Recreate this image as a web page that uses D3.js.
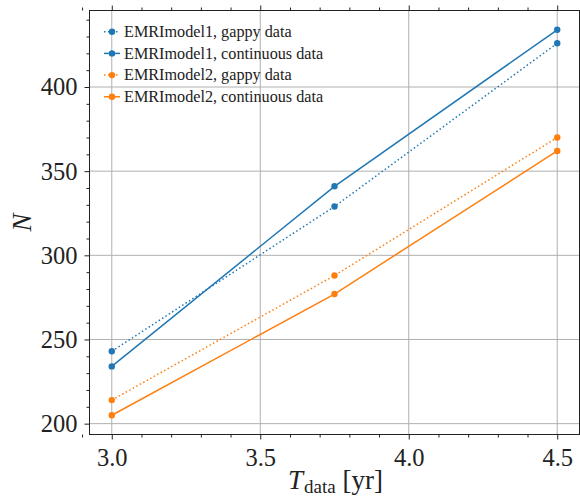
<!DOCTYPE html>
<html>
<head>
<meta charset="utf-8">
<script src="https://cdn.jsdelivr.net/npm/d3@7"></script>
<style>
  html, body { margin: 0; padding: 0; background: #fff; }
  svg { display: block; }
  text { font-family: "Liberation Serif", "Times New Roman", serif; fill: #222; }
</style>
</head>
<body>
<svg id="chart" width="580" height="500"></svg>
<script>
// ---- data ----
const tData = [3.0, 3.75, 4.5];
const model1Gappy = [243, 329, 426];
const model1Cont = [234, 341, 434];
const model2Gappy = [214, 288, 370];
const model2Cont = [205, 277, 362];
const seriesLabels = [
  "EMRImodel1, gappy data",
  "EMRImodel1, continuous data",
  "EMRImodel2, gappy data",
  "EMRImodel2, continuous data"
];
const seriesColors = ["#1f77b4", "#1f77b4", "#ff7f0e", "#ff7f0e"];
const seriesDotted = [true, false, true, false];
const xTicks = [3.0, 3.5, 4.0, 4.5];
const yTicks = [200, 250, 300, 350, 400];
const xMinorTicks = d3.range(29, 46).map(d => d / 10).filter(d => !xTicks.some(t => Math.abs(t - d) < 1e-9));
const yMinorTicks = d3.range(190, 450, 10).filter(d => d % 50 !== 0);

const seriesValues = [model1Gappy, model1Cont, model2Gappy, model2Cont];

// ---- layout ----
const svg = d3.select("#chart");
const L = 89.5, R = 579.5, T = 10.5, B = 434.5;

const allY = seriesValues.flat();
const yMin = d3.min(allY), yMax = d3.max(allY);
const yPad = (yMax - yMin) * 0.05;
const xPad = (d3.max(tData) - d3.min(tData)) * 0.05;

const x = d3.scaleLinear().domain([d3.min(tData) - xPad, d3.max(tData) + xPad]).range([L, R]);
const y = d3.scaleLinear().domain([yMin - yPad, yMax + yPad]).range([B, T]);

// grid
const grid = svg.append("g");
grid.selectAll("line.gx").data(xTicks).enter().append("line")
  .attr("x1", d => x(d)).attr("x2", d => x(d)).attr("y1", T).attr("y2", B)
  .attr("stroke", "#b0b0b0").attr("stroke-width", 1);
grid.selectAll("line.gy").data(yTicks).enter().append("line")
  .attr("y1", d => y(d)).attr("y2", d => y(d)).attr("x1", L).attr("x2", R)
  .attr("stroke", "#b0b0b0").attr("stroke-width", 1);

// lines
const line = d3.line().x((d, i) => x(tData[i])).y(d => y(d));
seriesValues.forEach((vals, si) => {
  const g = svg.append("g");
  g.append("path").datum(vals)
    .attr("d", line)
    .attr("fill", "none")
    .attr("stroke", seriesColors[si])
    .attr("stroke-width", 1.5)
    .attr("stroke-dasharray", seriesDotted[si] ? "1.5,2.5" : null);
  g.selectAll("circle").data(vals).enter().append("circle")
    .attr("cx", (d, i) => x(tData[i]))
    .attr("cy", d => y(d))
    .attr("r", 3.2)
    .attr("fill", seriesColors[si]);
});

// frame
svg.append("rect").attr("x", L).attr("y", T).attr("width", R - L).attr("height", B - T)
  .attr("fill", "none").attr("stroke", "#222").attr("stroke-width", 1);

function styleAxis(g) {
  g.select(".domain").remove();
  g.selectAll(".tick line").attr("stroke", "#222").attr("stroke-width", 1);
}

// major axes
svg.append("g").attr("transform", `translate(0,${B})`)
  .call(d3.axisBottom(x).tickValues(xTicks).tickFormat(d3.format(".1f")).tickSize(5).tickPadding(9))
  .call(styleAxis)
  .selectAll("text").style("font-size", "24.5px").style("font-family", "Liberation Serif, serif").attr("fill", "#222");
svg.append("g").attr("transform", `translate(0,${T})`)
  .call(d3.axisTop(x).tickValues(xTicks).tickFormat("").tickSize(5))
  .call(styleAxis);
svg.append("g").attr("transform", `translate(${L},0)`)
  .call(d3.axisLeft(y).tickValues(yTicks).tickFormat(d3.format("d")).tickSize(5).tickPadding(7))
  .call(styleAxis)
  .selectAll("text").style("font-size", "24.5px").style("font-family", "Liberation Serif, serif").attr("fill", "#222");
svg.append("g").attr("transform", `translate(${R},0)`)
  .call(d3.axisRight(y).tickValues(yTicks).tickFormat("").tickSize(5))
  .call(styleAxis);

// minor axes
svg.append("g").attr("transform", `translate(0,${B})`)
  .call(d3.axisBottom(x).tickValues(xMinorTicks).tickFormat("").tickSize(3)).call(styleAxis);
svg.append("g").attr("transform", `translate(0,${T})`)
  .call(d3.axisTop(x).tickValues(xMinorTicks).tickFormat("").tickSize(3)).call(styleAxis);
svg.append("g").attr("transform", `translate(${L},0)`)
  .call(d3.axisLeft(y).tickValues(yMinorTicks.filter(d => y(d) >= T && y(d) <= B)).tickFormat("").tickSize(3)).call(styleAxis);

// axis labels
const xl = svg.append("text")
  .attr("x", (L + R) / 2 + 1).attr("y", 489)
  .attr("text-anchor", "middle")
  .style("font-size", "27px");
xl.append("tspan").text("T").style("font-style", "italic");
xl.append("tspan").text("data").style("font-size", "19px").attr("dy", 4).attr("dx", 1);
xl.append("tspan").text(" [yr]").attr("dy", -4);

svg.append("text")
  .attr("transform", `translate(31,${(T + B) / 2}) rotate(-90)`)
  .attr("text-anchor", "middle")
  .style("font-size", "27px").style("font-style", "italic")
  .text("N");

// legend
const leg = svg.append("g");
const legY0 = 31.7, legDy = 21.7;
seriesLabels.forEach((lab, i) => {
  const yy = legY0 + i * legDy;
  leg.append("line").attr("x1", 104).attr("x2", 120).attr("y1", yy).attr("y2", yy)
    .attr("stroke", seriesColors[i]).attr("stroke-width", 1.5)
    .attr("stroke-dasharray", seriesDotted[i] ? "1.5,2.5" : null);
  leg.append("circle").attr("cx", 112).attr("cy", yy).attr("r", 3.2).attr("fill", seriesColors[i]);
  leg.append("text").attr("x", 124).attr("y", yy + 5.3).style("font-size", "16.2px").text(lab);
});
</script>
</body>
</html>
